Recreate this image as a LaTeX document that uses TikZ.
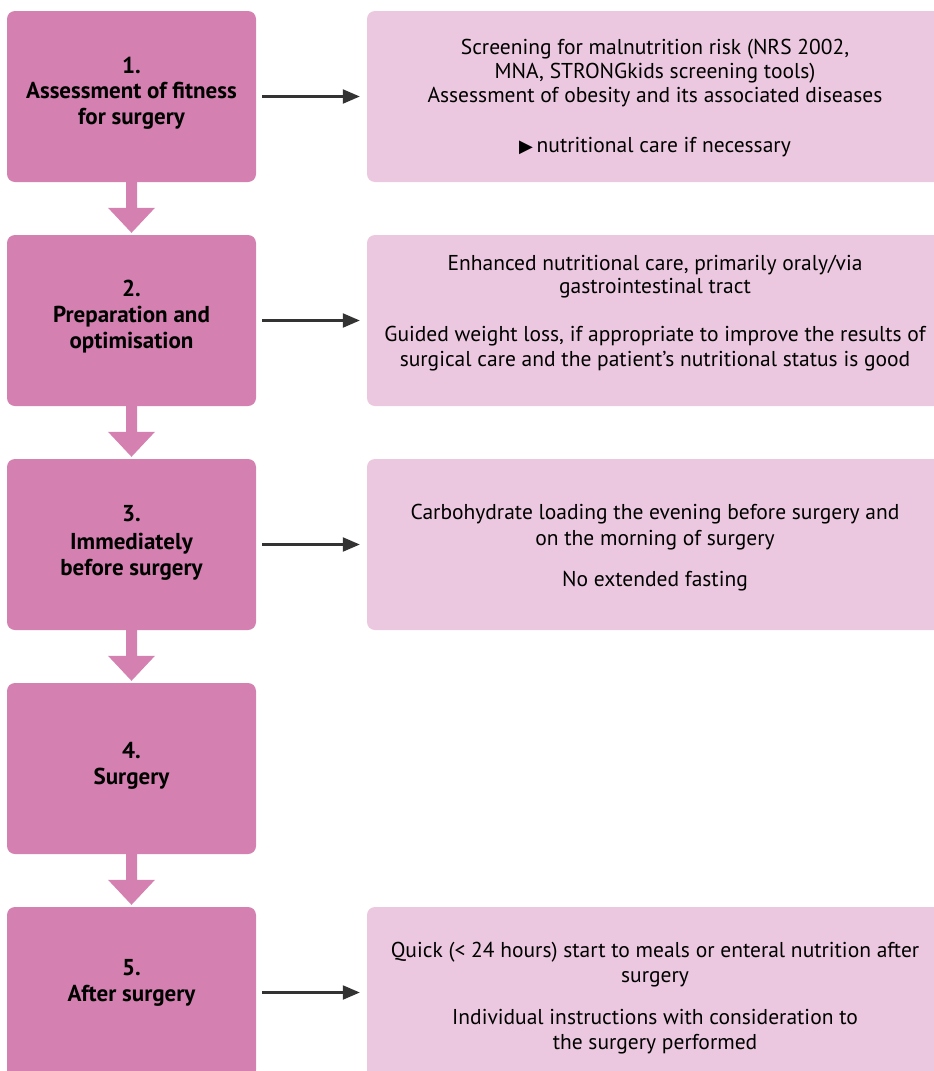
\documentclass[tikz,border=0pt]{standalone}
\usepackage{fontspec}
\setmainfont{PT Sans}
\newfontfamily\symbolfont{DejaVu Sans}
\usetikzlibrary{arrows.meta,calc}
\definecolor{stepfill}{HTML}{D480B0}
\definecolor{notefill}{HTML}{EBC8DF}
\definecolor{linkgray}{HTML}{333333}
% broad downward arrow from one step box to the next
\newcommand\flowarrow[2]{%
  \fill[flow] ($(#1.south)+(-5.5,-1)$) -- ($(#2.north)+(-5.5,-27)$)
    -- ($(#2.north)+(-23.5,-27)$) -- ($(#2.north)+(0,-2)$)
    -- ($(#2.north)+(23.5,-27)$) -- ($(#2.north)+(5.5,-27)$)
    -- ($(#1.south)+(5.5,-1)$) -- cycle;}
\begin{document}
\begin{tikzpicture}[x=1pt,y=-1pt,
  stepbox/.style={fill=stepfill, rounded corners=8pt, minimum width=249pt,
    minimum height=171pt, inner sep=0pt},
  notebox/.style={fill=notefill, rounded corners=8pt, minimum width=590pt,
    minimum height=171pt, inner sep=0pt},
  steptext/.style={font=\fontsize{23}{25}\selectfont\bfseries, anchor=base,
    inner sep=0pt},
  notetext/.style={font=\fontsize{21.5}{24}\selectfont, anchor=base, inner sep=0pt},
  link/.style={draw=linkgray, line width=2.2pt, -{Triangle[length=17pt,width=14pt]},
    shorten <=6pt, shorten >=7pt},
  flow/.style={fill=stepfill}]
\useasboundingbox (0,0) rectangle (934,1071);

% step boxes
\node[stepbox] (s1) at (131.5,96.5) {};
\node[stepbox] (s2) at (131.5,320.5) {};
\node[stepbox] (s3) at (131.5,544.5) {};
\node[stepbox] (s4) at (131.5,768.5) {};
\node[stepbox] (s5) at (131.5,992.5) {};

% note boxes
\node[notebox] (n1) at (662,96.5) {};
\node[notebox] (n2) at (662,320.5) {};
\node[notebox] (n3) at (662,544.5) {};
\node[notebox] (n5) at (662,992.5) {};

% step labels
\node[steptext] (l1a) at (131.5,73) {1.};
\node[steptext] (l1b) at (131.5,98) {Assessment of fitness};
\node[steptext] (l1c) at (131.5,124) {for surgery};
\node[steptext] (l2a) at (131.5,296) {2.};
\node[steptext] (l2b) at (131.5,322) {Preparation and};
\node[steptext] (l2c) at (131.5,348) {optimisation};
\node[steptext] (l3a) at (131.5,521) {3.};
\node[steptext] (l3b) at (131.5,549) {Immediately};
\node[steptext] (l3c) at (131.5,575) {before surgery};
\node[steptext] (l4a) at (131.5,758) {4.};
\node[steptext] (l4b) at (131.5,784) {Surgery};
\node[steptext] (l5a) at (131.5,975) {5.};
\node[steptext] (l5b) at (131.5,1001) {After surgery};

% note texts
\node[notetext] (m1a) at (655,54.5) {Screening for malnutrition risk (NRS 2002,};
\node[notetext] (m1b) at (655,78.5) {MNA, STRONGkids screening tools)};
\node[notetext] (m1c) at (655,102.5) {Assessment of obesity and its associated diseases};
\node[notetext] (m1d) at (655,152) {{\symbolfont\fontsize{18}{18}\selectfont ▶}\,nutritional care if necessary};

\node[notetext] (m2a) at (655,270) {Enhanced nutritional care, primarily oraly/via};
\node[notetext] (m2b) at (655,293) {gastrointestinal tract};
\node[notetext] (m2c) at (655,341) {Guided weight loss, if appropriate to improve the results of};
\node[notetext] (m2d) at (655,366) {surgical care and the patient’s nutritional status is good};

\node[notetext] (m3a) at (655,519) {Carbohydrate loading the evening before surgery and};
\node[notetext] (m3b) at (655,545) {on the morning of surgery};
\node[notetext] (m3c) at (655,586) {No extended fasting};

\node[notetext] (m5a) at (655,957) {Quick (< 24 hours) start to meals or enteral nutrition after};
\node[notetext] (m5b) at (655,982) {surgery};
\node[notetext] (m5c) at (655,1024) {Individual instructions with consideration to};
\node[notetext] (m5d) at (655,1049) {the surgery performed};

% connectors
\flowarrow{s1}{s2}
\flowarrow{s2}{s3}
\flowarrow{s3}{s4}
\flowarrow{s4}{s5}
\draw[link] (s1.east) -- (n1.west);
\draw[link] (s2.east) -- (n2.west);
\draw[link] (s3.east) -- (n3.west);
\draw[link] (s5.east) -- (n5.west);
\end{tikzpicture}
\end{document}
